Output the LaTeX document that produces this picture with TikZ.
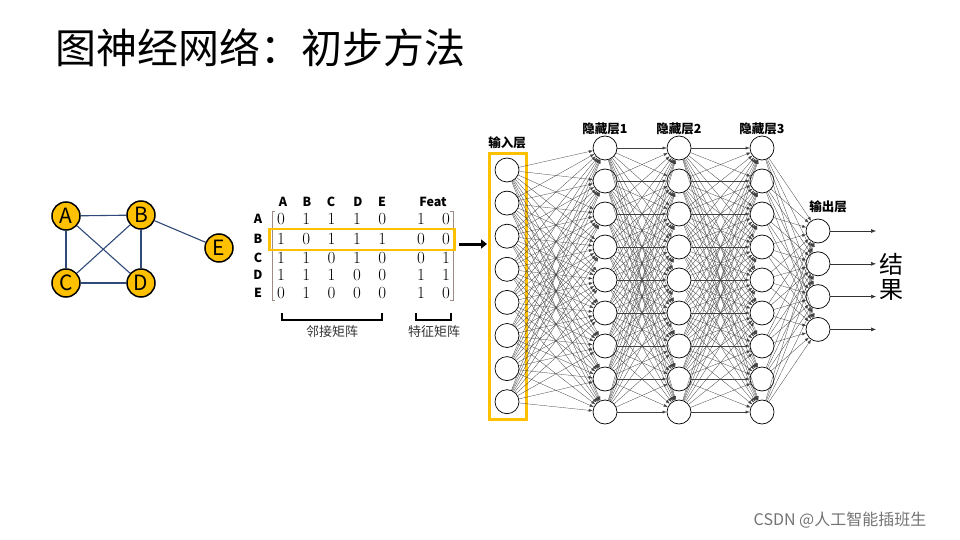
\documentclass[tikz,border=0pt]{standalone}
\usepackage{fontspec}
\setsansfont{Noto Sans CJK SC}
\newfontfamily\cjk{Noto Sans CJK SC}
\usetikzlibrary{arrows.meta,decorations.pathreplacing}
\definecolor{gold}{HTML}{FFC000}
\definecolor{navy}{HTML}{2F4A78}
\definecolor{brk}{HTML}{9E8A86}
\begin{document}
\begin{tikzpicture}[x=1pt,y=-1pt,
  gnode/.style={circle,draw=black,line width=1.5pt,fill=gold,minimum size=28pt,inner sep=0pt,font=\cjk\fontsize{21}{21}\selectfont},
  gedge/.style={draw=navy,line width=1.1pt},
  neuron/.style={circle,draw=black,line width=0.7pt,fill=white,minimum size=24pt,inner sep=0pt},
  conn/.style={draw=black!75,line width=0.3pt,-{Latex[length=4pt,width=3pt]}},
  hdr/.style={font=\cjk\bfseries\fontsize{12.5}{12.5}\selectfont},
  num/.style={font=\fontsize{17}{17}\selectfont},
  lbl/.style={font=\cjk\fontsize{13}{13}\selectfont,text=black!80}]
\useasboundingbox (0,0) rectangle (960,540);
\node[anchor=west,font=\cjk\fontsize{41}{41}\selectfont] (title) at (52,48) {图神经网络：初步方法};
% graph
\node[gnode] (A) at (66,216) {A};
\node[gnode] (B) at (141,215) {B};
\node[gnode] (C) at (66,283) {C};
\node[gnode] (D) at (141,283) {D};
\node[gnode] (E) at (219,248) {E};
\foreach \u/\v in {A/B,A/C,A/D,B/C,B/D,C/D,B/E} \draw[gedge] (\u) -- (\v);
% matrix
\foreach \c/\x in {A/283,B/307,C/331,D/358,E/382} \node[hdr] (h\c) at (\x,202) {\c};
\node[hdr] (hF) at (433,202) {Feat};
\foreach \r/\y in {A/219,B/239,C/258,D/275,E/293} \node[hdr] (r\r) at (258,\y) {\r};
\foreach \y/\vals in {219/{0,1,1,1,0,1,0},239/{1,0,1,1,1,0,0},258/{1,1,0,1,0,0,1},275/{1,1,1,0,0,1,1},293/{0,1,0,0,0,1,0}}{
  \foreach \v [count=\i] in \vals {
    \pgfmathsetmacro{\xx}{\i<6 ? 281+(\i-1)*25.3 : 421+(\i-6)*25}
    \node[num] at (\xx,\y) {\v};
  }
}
\draw[brk,line width=0.8pt] (275,211) -- (272,211) -- (272,300) -- (275,300);
\draw[brk,line width=0.8pt] (450,211) -- (453,211) -- (453,300) -- (450,300);
\node[draw=gold,line width=2.6pt,minimum width=185pt,minimum height=21pt,inner sep=0pt] (hl) at (362,239.5) {};
\draw[line width=1.3pt] (282,313) -- (282,320) -- (382,320) -- (382,313);
\draw[line width=1.3pt] (416,313) -- (416,320) -- (451,320) -- (451,313);
\node[lbl] (l1) at (332,332) {邻接矩阵};
\node[lbl] (l2) at (434,332) {特征矩阵};
\coordinate (a1) at (459,244); \coordinate (a2) at (487,244);
\draw[line width=3pt,-{Triangle[length=6pt,width=9pt]}] (a1) -- (a2);
% network
\node[draw=gold,line width=2.4pt,minimum width=37pt,minimum height=266pt,inner sep=0pt] (box) at (508,286.5) {};
\foreach \i in {1,...,8} \node[neuron] (i\i) at (507,{170+(\i-1)*33.1}) {};
\foreach \L/\x in {p/605,q/679,r/762} \foreach \i in {1,...,9} \node[neuron] (\L\i) at (\x,{148+(\i-1)*33}) {};
\foreach \i in {1,...,4} \node[neuron] (o\i) at (818,{231+(\i-1)*32.8}) {};
\foreach \a in {1,...,8} \foreach \b in {1,...,9} \draw[conn] (i\a) -- (p\b);
\foreach \a in {1,...,9} \foreach \b in {1,...,9} {\draw[conn] (p\a) -- (q\b); \draw[conn] (q\a) -- (r\b);}
\foreach \a in {1,...,9} \foreach \b in {1,...,4} \draw[conn] (r\a) -- (o\b);
\foreach \i in {1,...,4} {\coordinate (t\i) at (876,{231+(\i-1)*32.8}); \draw[draw=black!80,line width=0.5pt,-{Latex[length=5pt,width=4pt]}] (o\i) -- (t\i);}
\node[hdr] (n0) at (507,143) {输入层};
\node[hdr] (n1) at (605,129) {隐藏层1};
\node[hdr] (n2) at (679,129) {隐藏层2};
\node[hdr] (n3) at (762,129) {隐藏层3};
\node[hdr] (n4) at (828,207) {输出层};
\node[font=\cjk\fontsize{24}{25}\selectfont,align=center] (res) at (891,277) {结\\果};
\node[font=\cjk\fontsize{16}{16}\selectfont,text=black!55] (wm) at (840,520) {CSDN @人工智能插班生};
\end{tikzpicture}
\end{document}
